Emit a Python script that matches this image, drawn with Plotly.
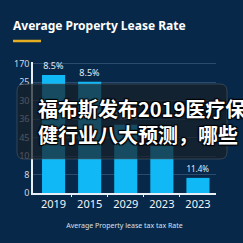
import plotly.graph_objects as go

categories = ["2019", "2015", "2029", "2023", "2023"]
values = [6.39, 6.03, 3.7, 2.55, 0.82]
bar_labels = ["8.5%", "8.5%", "11.2%", "", "11.4%"]
ytick_vals = [0, 1, 2, 3, 4, 5, 6, 7]
ytick_text = ["0", "8", "10", "45", "36", "30", "25", "170"]
title_text = "Average Property Lease Rate"
xaxis_title = "Average Property lease tax tax Rate"
overlay_text = "福布斯发布2019医疗保<br>健行业八大预测，哪些"

BG = "#072848"
BAR = "#10b9f5"
xs = list(range(len(categories)))

fig = go.Figure()
fig.add_trace(go.Bar(
    x=xs, y=values, width=0.64, marker=dict(color=BAR, line=dict(width=0)),
    text=bar_labels, textposition="outside", cliponaxis=False,
    textfont=dict(family="Noto Sans", size=9, color="#e6edf5"),
))
# invisible trace for boundary tick marks
fig.add_trace(go.Scatter(x=[0, 4], y=[0, 0], xaxis="x2", mode="markers",
                         marker=dict(opacity=0), hoverinfo="skip", showlegend=False))

fig.update_layout(
    width=243, height=243,
    margin=dict(l=33, r=27, t=62, b=50),
    paper_bgcolor=BG, plot_bgcolor=BG,
    showlegend=False,
    bargap=0.36,
    font=dict(family="Noto Sans", color="#e6edf5"),
    title=dict(text="<b>" + title_text + "</b>", xref="container", yref="container",
               x=13/243, y=1-26/243, xanchor="left", yanchor="middle",
               font=dict(family="Noto Sans", size=12, color="white")),
    xaxis=dict(range=[-0.57, 4.5], tickmode="array", tickvals=xs, ticktext=categories,
               ticks="", showgrid=False, zeroline=False,
               showline=True, linecolor="#e8eef5", linewidth=1.5,
               tickfont=dict(size=11, color="#f2f5f9"),
               title=dict(text=xaxis_title, font=dict(size=7, color="#d8e0ea"), standoff=13)),
    xaxis2=dict(range=[-0.57, 4.5], overlaying="x", side="bottom", tickmode="array",
                tickvals=[0.5, 1.5, 2.5, 3.5], ticks="outside", ticklen=3, tickwidth=1,
                tickcolor="#e8eef5", showticklabels=False, showgrid=False,
                zeroline=False, showline=False),
    yaxis=dict(range=[0, 7.1], tickmode="array", tickvals=ytick_vals, ticktext=ytick_text,
               showgrid=True, gridcolor="rgba(140,165,200,0.28)", gridwidth=1,
               zeroline=False, showline=True, linecolor="#e8eef5", linewidth=1.5,
               ticks="", tickfont=dict(size=9, color="#d0d8e4")),
)

# title underline
fig.add_shape(type="line", xref="paper", yref="paper",
              x0=(13-33)/183, x1=(41-33)/183, y0=(193-41)/131, y1=(193-41)/131,
              line=dict(color="#e5ad22", width=2.5))

# rounded semi-transparent overlay box
x0, x1 = (17-33)/183, (227-33)/183
y0, y1 = (193-159)/131, (193-84)/131
rx, ry = 7/183, 7/131
path = (f"M {x0+rx},{y1} L {x1-rx},{y1} Q {x1},{y1} {x1},{y1-ry} "
        f"L {x1},{y0+ry} Q {x1},{y0} {x1-rx},{y0} L {x0+rx},{y0} "
        f"Q {x0},{y0} {x0},{y0+ry} L {x0},{y1-ry} Q {x0},{y1} {x0+rx},{y1} Z")
fig.add_shape(type="path", xref="paper", yref="paper", path=path,
              fillcolor="rgba(25,32,40,0.72)", line=dict(color="rgba(90,100,110,0.5)", width=1),
              layer="above")

fig.add_annotation(xref="paper", yref="paper", x=(36-33)/183, y=(193-121)/131,
                   xanchor="left", yanchor="middle", align="left", showarrow=False,
                   text="<b>" + overlay_text + "</b>",
                   font=dict(family="Noto Sans CJK SC", size=20, color="white",
                             shadow="1px 1px 1px black, -1px -1px 1px black, 1px -1px 1px black, -1px 1px 1px black"))

fig.write_html("out.html")
